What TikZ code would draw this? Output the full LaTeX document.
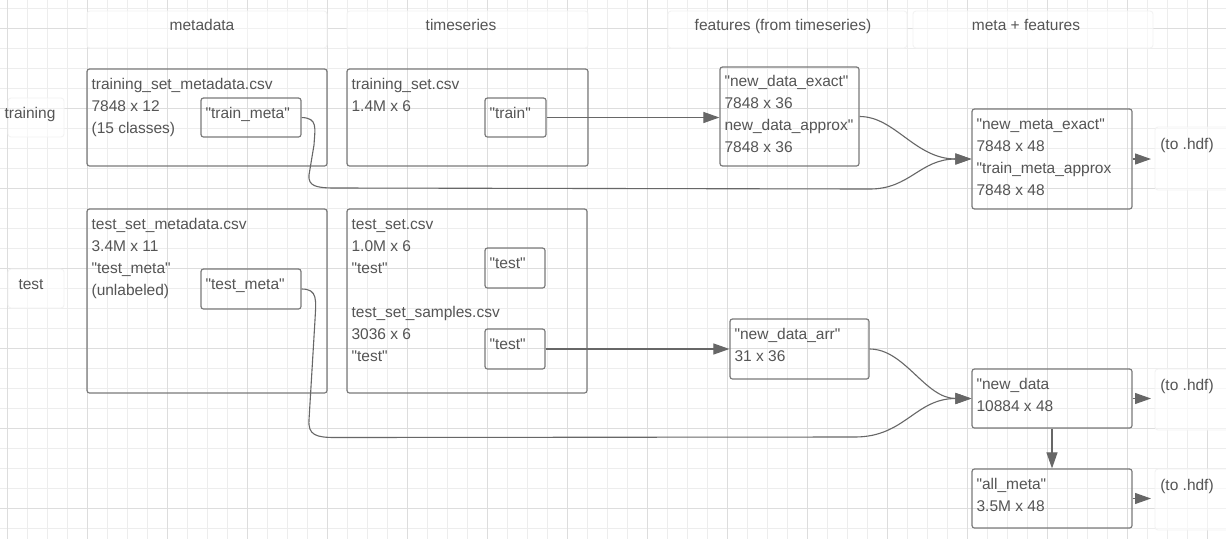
\documentclass[tikz,border=0pt]{standalone}
\usepackage{fontspec}
\setmainfont{Liberation Sans}[Ligatures=TeXOff]
\usetikzlibrary{arrows.meta}
\definecolor{gridminor}{HTML}{EDEDED}
\definecolor{gridmajor}{HTML}{DDDDDD}
\definecolor{boxline}{HTML}{7A7A7A}
\definecolor{txt}{HTML}{555555}
\definecolor{arr}{HTML}{676767}
\newcommand{\topln}{\rule{0pt}{12pt}}
\tikzset{
  databox/.style={draw=boxline, line width=1.2pt, rounded corners=2.5pt, inner sep=0pt},
  boxtext/.style={anchor=north west, inner sep=0pt, align=left, text=txt,
    font=\fontsize{15.5pt}{22pt}\selectfont},
  hdr/.style={anchor=base, inner sep=0pt, text=txt, font=\fontsize{15.5pt}{22pt}\selectfont},
  faint/.style={fill=white, fill opacity=0.6, draw=black!5, line width=0.8pt, rounded corners=3pt},
  conn/.style={draw=arr, line width=1.1pt},
  arrowed/.style={conn, -{Triangle[length=16pt,width=11pt]}}
}
\begin{document}
\begin{tikzpicture}[x=1pt,y=-1pt]
\useasboundingbox (0,0) rectangle (1226,539);
\fill[white] (0,0) rectangle (1226,539);
% grid
\foreach \gx in {0,...,61} \draw[gridminor, line width=0.9pt] ({7.3+20*\gx},0) -- ({7.3+20*\gx},539);
\foreach \gy in {0,...,26} \draw[gridminor, line width=0.9pt] (0,{8.3+20*\gy}) -- (1226,{8.3+20*\gy});
\foreach \gx in {0,...,15} \draw[gridmajor, line width=0.9pt] ({7.3+80*\gx},0) -- ({7.3+80*\gx},539);
\foreach \gy in {0,...,6} \draw[gridmajor, line width=0.9pt] (0,{28.3+80*\gy}) -- (1226,{28.3+80*\gy});

% faint label backgrounds
\path[faint] (87,11) rectangle (327,48);
\path[faint] (347,11) rectangle (588,48);
\path[faint] (668,11) rectangle (907,48);
\path[faint] (913,11) rectangle (1153,48);
\path[faint] (8,98) rectangle (64,137);
\path[faint] (8,269) rectangle (64,308);
\path[faint] (1155,127) rectangle (1232,190);
\path[faint] (1155,369) rectangle (1232,430);
\path[faint] (1155,469) rectangle (1232,530);

% headers
\node[hdr] (hMeta) at (202,30) {metadata};
\node[hdr] (hTime) at (461,30) {timeseries};
\node[hdr] (hFeat) at (783,30) {features (from timeseries)};
\node[hdr] (hMF) at (1026,30) {meta + features};
\node[hdr] (lTrain) at (30,118) {training};
\node[hdr] (lTest) at (31,289) {test};

% boxes
\node[databox, minimum width=240pt, minimum height=97pt] (tmd) at (207,117.5) {};
\node[databox, minimum width=100pt, minimum height=39pt] (tm) at (251,117.5) {};
\node[databox, minimum width=241pt, minimum height=97pt] (ts) at (467.5,117.5) {};
\node[databox, minimum width=61pt, minimum height=39pt] (tr) at (515.5,117.5) {};
\node[databox, minimum width=139pt, minimum height=99pt] (nde) at (789.5,116.5) {};
\node[databox, minimum width=160pt, minimum height=100pt] (nm) at (1052,159) {};
\node[databox, minimum width=240pt, minimum height=184pt] (smd) at (207,301) {};
\node[databox, minimum width=100pt, minimum height=40pt] (tsm) at (251,289) {};
\node[databox, minimum width=240pt, minimum height=184pt] (tst) at (467,301) {};
\node[databox, minimum width=60pt, minimum height=40pt] (t1) at (515,268) {};
\node[databox, minimum width=60pt, minimum height=40pt] (t2) at (515,349) {};
\node[databox, minimum width=139pt, minimum height=60pt] (nda) at (799.5,349) {};
\node[databox, minimum width=160pt, minimum height=59pt] (nd) at (1052,398.5) {};
\node[databox, minimum width=160pt, minimum height=59pt] (am) at (1052,498.5) {};

% box texts
\node[boxtext] (tmdT) at ([shift={(5,9)}]tmd.north west) {\topln training\_set\_metadata.csv\\7848 x 12\\(15 classes)};
\node[boxtext] (tmT) at ([shift={(5,9)}]tm.north west) {\topln "train\_meta"};
\node[boxtext] (tsT) at ([shift={(5,9)}]ts.north west) {\topln training\_set.csv\\1.4M x 6};
\node[boxtext] (trT) at ([shift={(5,9)}]tr.north west) {\topln "train"};
\node[boxtext] (ndeT) at ([shift={(5,7.5)}]nde.north west) {\topln "new\_data\_exact"\\7848 x 36\\new\_data\_approx"\\7848 x 36};
\node[boxtext] (nmT) at ([shift={(5,9)}]nm.north west) {\topln "new\_meta\_exact"\\7848 x 48\\"train\_meta\_approx\\7848 x 48};
\node[boxtext] (smdT) at ([shift={(5,8.5)}]smd.north west) {\topln test\_set\_metadata.csv\\3.4M x 11\\"test\_meta"\\(unlabeled)};
\node[boxtext] (tsmT) at ([shift={(5,8.5)}]tsm.north west) {\topln "test\_meta"};
\node[boxtext] (tstT) at ([shift={(5,8.5)}]tst.north west) {\topln test\_set.csv\\1.0M x 6\\"test"\\[22pt]test\_set\_samples.csv\\3036 x 6\\"test"};
\node[boxtext] (t1T) at ([shift={(5,8.5)}]t1.north west) {\topln "test"};
\node[boxtext] (t2T) at ([shift={(5,8.5)}]t2.north west) {\topln "test"};
\node[boxtext] (ndaT) at ([shift={(5,8.5)}]nda.north west) {\topln "new\_data\_arr"\\31 x 36};
\node[boxtext] (ndT) at ([shift={(5,9)}]nd.north west) {\topln "new\_data\\10884 x 48};
\node[boxtext] (amT) at ([shift={(5,9)}]am.north west) {\topln "all\_meta"\\3.5M x 48};

% to .hdf labels
\node[hdr] (hdf1) at (1187,149) {(to .hdf)};
\node[hdr] (hdf2) at (1187,390) {(to .hdf)};
\node[hdr] (hdf3) at (1187,490) {(to .hdf)};
\coordinate (h1) at (1151,159);
\coordinate (h2) at (1151,398.5);
\coordinate (h3) at (1151,498.5);

% connectors
\draw[arrowed] (tr.east) -- (tr.east -| nde.west);
\draw[arrowed] (t2.east) -- (t2.east -| nda.west);
\draw[arrowed] (nde.east) .. controls (895,116.5) and (915,159) .. (nm.west);
\draw[arrowed] (tm.east) .. controls (318,118) and (315,128) .. (314,145) -- (309,175)
  .. controls (308,186) and (316,188) .. (335,188) -- (870,189)
  .. controls (910,189) and (920,159) .. (nm.west);
\draw[arrowed] (nda.east) .. controls (905,349) and (925,398.5) .. (nd.west);
\draw[arrowed] (tsm.east) .. controls (318,289) and (316,300) .. (315,320) -- (309,420)
  .. controls (308,435) and (316,437.5) .. (335,437.5) -- (855,437)
  .. controls (905,437) and (915,398.5) .. (nd.west);
\draw[arrowed] (nd.south) -- (am.north);
\draw[arrowed] (nm.east) -- (h1);
\draw[arrowed] (nd.east) -- (h2);
\draw[arrowed] (am.east) -- (h3);
\end{tikzpicture}
\end{document}
